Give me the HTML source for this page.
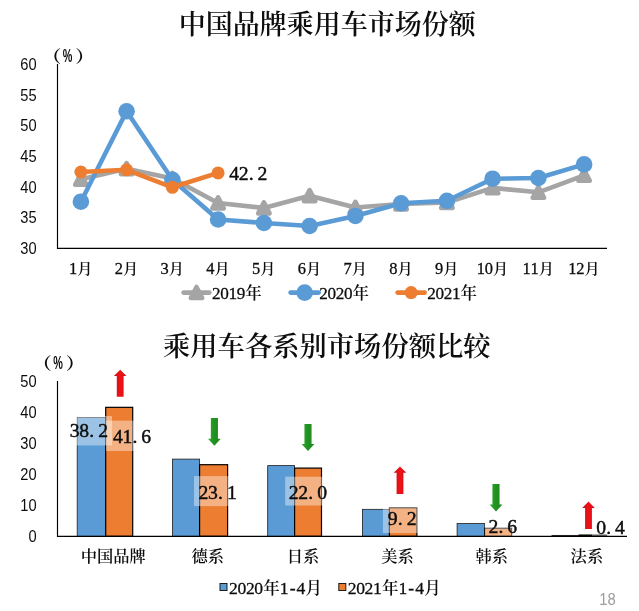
<!DOCTYPE html><html lang="zh-CN"><head><meta charset="utf-8"><title>中国品牌乘用车市场份额</title>
<style>html,body{margin:0;padding:0;background:#fff}svg{display:block}text{font-family:"Liberation Serif","Noto Serif CJK SC",serif;font-weight:600}.s{font-family:"Liberation Sans",sans-serif;font-weight:400}.d{font-weight:400}</style></head><body>
<svg width="639" height="611" viewBox="0 0 639 611">
<rect width="639" height="611" fill="#fff"/>
<text x="327.3" y="33.9" font-size="27.0" text-anchor="middle" fill="#0d0d0d">中国品牌乘用车市场份额</text>
<text transform="translate(56.10 63.1) scale(1.15 1)" x="-3.9" font-size="16.8" style="font-weight:700" text-anchor="middle" fill="#0d0d0d">（</text>
<text class="s" transform="translate(67.60 62.4) scale(0.6 1)" font-size="18" style="font-weight:700" text-anchor="middle" fill="#0d0d0d">%</text>
<text transform="translate(80.50 63.1) scale(1.15 1)" x="3.9" font-size="16.8" style="font-weight:700" text-anchor="middle" fill="#0d0d0d">）</text>
<text class="s" transform="translate(36.7 69.80) scale(0.93 1)" font-size="15.8" text-anchor="end" fill="#0d0d0d">60</text>
<text class="s" transform="translate(36.7 100.50) scale(0.93 1)" font-size="15.8" text-anchor="end" fill="#0d0d0d">55</text>
<text class="s" transform="translate(36.7 131.20) scale(0.93 1)" font-size="15.8" text-anchor="end" fill="#0d0d0d">50</text>
<text class="s" transform="translate(36.7 161.90) scale(0.93 1)" font-size="15.8" text-anchor="end" fill="#0d0d0d">45</text>
<text class="s" transform="translate(36.7 192.60) scale(0.93 1)" font-size="15.8" text-anchor="end" fill="#0d0d0d">40</text>
<text class="s" transform="translate(36.7 223.30) scale(0.93 1)" font-size="15.8" text-anchor="end" fill="#0d0d0d">35</text>
<text class="s" transform="translate(36.7 254.00) scale(0.93 1)" font-size="15.8" text-anchor="end" fill="#0d0d0d">30</text>
<path d="M57.5 64.1 V248.3 H607" fill="none" stroke="#000" stroke-width="1.15"/>
<text y="273.70" font-size="15.2" text-anchor="middle" fill="#0d0d0d" style="font-weight:600"><tspan class="d" x="73.08" font-size="16.43" stroke="#0d0d0d" stroke-width="0.3">1</tspan><tspan x="84.93">月</tspan></text>
<text y="273.70" font-size="15.2" text-anchor="middle" fill="#0d0d0d" style="font-weight:600"><tspan class="d" x="118.83" font-size="16.43" stroke="#0d0d0d" stroke-width="0.3">2</tspan><tspan x="130.68">月</tspan></text>
<text y="273.70" font-size="15.2" text-anchor="middle" fill="#0d0d0d" style="font-weight:600"><tspan class="d" x="164.57" font-size="16.43" stroke="#0d0d0d" stroke-width="0.3">3</tspan><tspan x="176.43">月</tspan></text>
<text y="273.70" font-size="15.2" text-anchor="middle" fill="#0d0d0d" style="font-weight:600"><tspan class="d" x="210.32" font-size="16.43" stroke="#0d0d0d" stroke-width="0.3">4</tspan><tspan x="222.18">月</tspan></text>
<text y="273.70" font-size="15.2" text-anchor="middle" fill="#0d0d0d" style="font-weight:600"><tspan class="d" x="256.07" font-size="16.43" stroke="#0d0d0d" stroke-width="0.3">5</tspan><tspan x="267.92">月</tspan></text>
<text y="273.70" font-size="15.2" text-anchor="middle" fill="#0d0d0d" style="font-weight:600"><tspan class="d" x="301.82" font-size="16.43" stroke="#0d0d0d" stroke-width="0.3">6</tspan><tspan x="313.67">月</tspan></text>
<text y="273.70" font-size="15.2" text-anchor="middle" fill="#0d0d0d" style="font-weight:600"><tspan class="d" x="347.57" font-size="16.43" stroke="#0d0d0d" stroke-width="0.3">7</tspan><tspan x="359.42">月</tspan></text>
<text y="273.70" font-size="15.2" text-anchor="middle" fill="#0d0d0d" style="font-weight:600"><tspan class="d" x="393.32" font-size="16.43" stroke="#0d0d0d" stroke-width="0.3">8</tspan><tspan x="405.17">月</tspan></text>
<text y="273.70" font-size="15.2" text-anchor="middle" fill="#0d0d0d" style="font-weight:600"><tspan class="d" x="439.07" font-size="16.43" stroke="#0d0d0d" stroke-width="0.3">9</tspan><tspan x="450.92">月</tspan></text>
<text y="273.70" font-size="15.2" text-anchor="middle" fill="#0d0d0d" style="font-weight:600"><tspan class="d" x="480.88 488.77" font-size="16.43" stroke="#0d0d0d" stroke-width="0.3">10</tspan><tspan x="500.62">月</tspan></text>
<text y="273.70" font-size="15.2" text-anchor="middle" fill="#0d0d0d" style="font-weight:600"><tspan class="d" x="526.63 534.53" font-size="16.43" stroke="#0d0d0d" stroke-width="0.3">11</tspan><tspan x="546.38">月</tspan></text>
<text y="273.70" font-size="15.2" text-anchor="middle" fill="#0d0d0d" style="font-weight:600"><tspan class="d" x="572.38 580.28" font-size="16.43" stroke="#0d0d0d" stroke-width="0.3">12</tspan><tspan x="592.12">月</tspan></text>
<polyline points="80.9,179.3 126.6,168.7 172.4,178.5 218.1,203.0 263.9,208.0 309.6,195.7 355.4,207.5 401.1,204.0 446.9,202.5 492.6,187.9 538.4,192.3 584.1,175.4" fill="none" stroke="#a5a5a5" stroke-width="4.6" stroke-linejoin="round" stroke-linecap="round"/>
<path d="M80.9 173.7 L86.6 184.7 H75.2 Z" fill="#a5a5a5" stroke="#a5a5a5" stroke-width="4.6" stroke-linejoin="round"/>
<path d="M126.6 163.1 L132.3 174.1 H120.9 Z" fill="#a5a5a5" stroke="#a5a5a5" stroke-width="4.6" stroke-linejoin="round"/>
<path d="M172.4 172.9 L178.1 183.9 H166.7 Z" fill="#a5a5a5" stroke="#a5a5a5" stroke-width="4.6" stroke-linejoin="round"/>
<path d="M218.1 197.4 L223.8 208.4 H212.4 Z" fill="#a5a5a5" stroke="#a5a5a5" stroke-width="4.6" stroke-linejoin="round"/>
<path d="M263.9 202.4 L269.6 213.4 H258.2 Z" fill="#a5a5a5" stroke="#a5a5a5" stroke-width="4.6" stroke-linejoin="round"/>
<path d="M309.6 190.1 L315.3 201.1 H303.9 Z" fill="#a5a5a5" stroke="#a5a5a5" stroke-width="4.6" stroke-linejoin="round"/>
<path d="M355.4 201.9 L361.1 212.9 H349.7 Z" fill="#a5a5a5" stroke="#a5a5a5" stroke-width="4.6" stroke-linejoin="round"/>
<path d="M401.1 198.4 L406.8 209.4 H395.4 Z" fill="#a5a5a5" stroke="#a5a5a5" stroke-width="4.6" stroke-linejoin="round"/>
<path d="M446.9 196.9 L452.6 207.9 H441.2 Z" fill="#a5a5a5" stroke="#a5a5a5" stroke-width="4.6" stroke-linejoin="round"/>
<path d="M492.6 182.3 L498.3 193.3 H486.9 Z" fill="#a5a5a5" stroke="#a5a5a5" stroke-width="4.6" stroke-linejoin="round"/>
<path d="M538.4 186.7 L544.1 197.7 H532.7 Z" fill="#a5a5a5" stroke="#a5a5a5" stroke-width="4.6" stroke-linejoin="round"/>
<path d="M584.1 169.8 L589.8 180.8 H578.4 Z" fill="#a5a5a5" stroke="#a5a5a5" stroke-width="4.6" stroke-linejoin="round"/>
<polyline points="80.9,201.7 126.6,111.3 172.4,179.8 218.1,219.5 263.9,223.0 309.6,226.0 355.4,216.0 401.1,203.3 446.9,200.8 492.6,178.7 538.4,178.0 584.1,164.4" fill="none" stroke="#5b9bd5" stroke-width="4.6" stroke-linejoin="round" stroke-linecap="round"/>
<circle cx="80.9" cy="201.7" r="8.3" fill="#5b9bd5"/>
<circle cx="126.6" cy="111.3" r="8.3" fill="#5b9bd5"/>
<circle cx="172.4" cy="179.8" r="8.3" fill="#5b9bd5"/>
<circle cx="218.1" cy="219.5" r="8.3" fill="#5b9bd5"/>
<circle cx="263.9" cy="223.0" r="8.3" fill="#5b9bd5"/>
<circle cx="309.6" cy="226.0" r="8.3" fill="#5b9bd5"/>
<circle cx="355.4" cy="216.0" r="8.3" fill="#5b9bd5"/>
<circle cx="401.1" cy="203.3" r="8.3" fill="#5b9bd5"/>
<circle cx="446.9" cy="200.8" r="8.3" fill="#5b9bd5"/>
<circle cx="492.6" cy="178.7" r="8.3" fill="#5b9bd5"/>
<circle cx="538.4" cy="178.0" r="8.3" fill="#5b9bd5"/>
<circle cx="584.1" cy="164.4" r="8.3" fill="#5b9bd5"/>
<polyline points="80.9,172.0 126.6,169.8 172.4,187.3 218.1,172.9" fill="none" stroke="#ed7d31" stroke-width="4.6" stroke-linejoin="round" stroke-linecap="round"/>
<circle cx="80.9" cy="172.0" r="6.5" fill="#ed7d31"/>
<circle cx="126.6" cy="169.8" r="6.5" fill="#ed7d31"/>
<circle cx="172.4" cy="187.3" r="6.5" fill="#ed7d31"/>
<circle cx="218.1" cy="172.9" r="6.5" fill="#ed7d31"/>
<text y="180.00" font-size="17.6" text-anchor="middle" fill="#0d0d0d" style="font-weight:600"><tspan class="d" x="234.12 243.57 251.13 262.48" font-size="19.66" stroke="#0d0d0d" stroke-width="0.45">42.2</tspan></text>
<line x1="183.6" y1="292.6" x2="209.4" y2="292.6" stroke="#a5a5a5" stroke-width="4.6" stroke-linecap="round"/>
<path d="M196.5 287.0 L202.2 298.0 H190.8 Z" fill="#a5a5a5" stroke="#a5a5a5" stroke-width="4.6" stroke-linejoin="round"/>
<text y="298.60" font-size="16.5" text-anchor="middle" fill="#0d0d0d" style="font-weight:600"><tspan class="d" x="216.32 224.57 232.82 241.07" font-size="17.16" stroke="#0d0d0d" stroke-width="0.3">2019</tspan><tspan x="253.45">年</tspan></text>
<line x1="290.6" y1="292.6" x2="318.7" y2="292.6" stroke="#5b9bd5" stroke-width="4.6" stroke-linecap="round"/>
<circle cx="304.65" cy="292.6" r="8.3" fill="#5b9bd5"/>
<text y="298.60" font-size="16.5" text-anchor="middle" fill="#0d0d0d" style="font-weight:600"><tspan class="d" x="323.62 331.88 340.12 348.38" font-size="17.16" stroke="#0d0d0d" stroke-width="0.3">2020</tspan><tspan x="360.75">年</tspan></text>
<line x1="397.6" y1="292.6" x2="424.7" y2="292.6" stroke="#ed7d31" stroke-width="4.6" stroke-linecap="round"/>
<circle cx="411.15" cy="292.6" r="6.5" fill="#ed7d31"/>
<text y="298.60" font-size="16.5" text-anchor="middle" fill="#0d0d0d" style="font-weight:600"><tspan class="d" x="431.62 439.88 448.12 456.38" font-size="17.16" stroke="#0d0d0d" stroke-width="0.3">2021</tspan><tspan x="468.75">年</tspan></text>
<text x="326.8" y="355.9" font-size="27.3" text-anchor="middle" fill="#0d0d0d">乘用车各系别市场份额比较</text>
<text transform="translate(46.60 369.8) scale(1.15 1)" x="-3.9" font-size="16.8" style="font-weight:700" text-anchor="middle" fill="#0d0d0d">（</text>
<text class="s" transform="translate(58.10 369.09999999999997) scale(0.6 1)" font-size="18" style="font-weight:700" text-anchor="middle" fill="#0d0d0d">%</text>
<text transform="translate(71.00 369.8) scale(1.15 1)" x="3.9" font-size="16.8" style="font-weight:700" text-anchor="middle" fill="#0d0d0d">）</text>
<text class="s" transform="translate(36.7 387.10) scale(0.93 1)" font-size="15.8" text-anchor="end" fill="#0d0d0d">50</text>
<text class="s" transform="translate(36.7 418.10) scale(0.93 1)" font-size="15.8" text-anchor="end" fill="#0d0d0d">40</text>
<text class="s" transform="translate(36.7 449.10) scale(0.93 1)" font-size="15.8" text-anchor="end" fill="#0d0d0d">30</text>
<text class="s" transform="translate(36.7 480.10) scale(0.93 1)" font-size="15.8" text-anchor="end" fill="#0d0d0d">20</text>
<text class="s" transform="translate(36.7 511.10) scale(0.93 1)" font-size="15.8" text-anchor="end" fill="#0d0d0d">10</text>
<text class="s" transform="translate(36.7 542.10) scale(0.93 1)" font-size="15.8" text-anchor="end" fill="#0d0d0d">0</text>
<rect x="77.20" y="417.57" width="28.50" height="118.73" fill="#5b9bd5" stroke="#1c1c1c" stroke-width="0.8"/>
<rect x="105.70" y="407.34" width="27.00" height="128.96" fill="#ed7d31" stroke="#000" stroke-width="1.2"/>
<rect x="172.50" y="459.11" width="27.10" height="77.19" fill="#5b9bd5" stroke="#1c1c1c" stroke-width="0.8"/>
<rect x="199.60" y="464.69" width="28.00" height="71.61" fill="#ed7d31" stroke="#000" stroke-width="1.2"/>
<rect x="267.70" y="465.62" width="26.90" height="70.68" fill="#5b9bd5" stroke="#1c1c1c" stroke-width="0.8"/>
<rect x="294.60" y="468.10" width="26.90" height="68.20" fill="#ed7d31" stroke="#000" stroke-width="1.2"/>
<rect x="362.40" y="509.33" width="27.00" height="26.97" fill="#5b9bd5" stroke="#1c1c1c" stroke-width="0.8"/>
<rect x="389.40" y="507.78" width="27.50" height="28.52" fill="#ed7d31" stroke="#000" stroke-width="1.2"/>
<rect x="457.10" y="523.59" width="27.50" height="12.71" fill="#5b9bd5" stroke="#1c1c1c" stroke-width="0.8"/>
<rect x="484.60" y="528.24" width="27.00" height="8.06" fill="#ed7d31" stroke="#000" stroke-width="1.2"/>
<rect x="552.00" y="535.37" width="27.20" height="0.93" fill="#5b9bd5" stroke="#1c1c1c" stroke-width="0.8"/>
<rect x="579.20" y="535.06" width="27.40" height="1.24" fill="#ed7d31" stroke="#000" stroke-width="1.2"/>
<rect x="66" y="416" width="46" height="29.4" fill="#fff" fill-opacity="0.4"/>
<rect x="106" y="420.6" width="52" height="30.4" fill="#fff" fill-opacity="0.4"/>
<rect x="194" y="476.1" width="46" height="30" fill="#fff" fill-opacity="0.4"/>
<rect x="285.2" y="476.7" width="46" height="28.8" fill="#fff" fill-opacity="0.4"/>
<rect x="382.9" y="506" width="38" height="27" fill="#fff" fill-opacity="0.4"/>
<rect x="484.8" y="515" width="38" height="26" fill="#fff" fill-opacity="0.4"/>
<rect x="592" y="515" width="40" height="24" fill="#fff" fill-opacity="0.4"/>
<text y="437.20" font-size="17.6" text-anchor="middle" fill="#0d0d0d" style="font-weight:600"><tspan class="d" x="74.72 84.17 91.73 103.08" font-size="19.66" stroke="#0d0d0d" stroke-width="0.45">38.2</tspan></text>
<text y="443.40" font-size="17.6" text-anchor="middle" fill="#0d0d0d" style="font-weight:600"><tspan class="d" x="117.92 127.38 134.94 146.27" font-size="19.66" stroke="#0d0d0d" stroke-width="0.45">41.6</tspan></text>
<text y="498.60" font-size="17.6" text-anchor="middle" fill="#0d0d0d" style="font-weight:600"><tspan class="d" x="203.53 212.97 220.53 231.87" font-size="19.66" stroke="#0d0d0d" stroke-width="0.45">23.1</tspan></text>
<text y="498.90" font-size="17.6" text-anchor="middle" fill="#0d0d0d" style="font-weight:600"><tspan class="d" x="293.73 303.18 310.74 322.07" font-size="19.66" stroke="#0d0d0d" stroke-width="0.45">22.0</tspan></text>
<text y="525.40" font-size="17.6" text-anchor="middle" fill="#0d0d0d" style="font-weight:600"><tspan class="d" x="392.73 400.29 411.62" font-size="19.66" stroke="#0d0d0d" stroke-width="0.45">9.2</tspan></text>
<text y="533.30" font-size="17.6" text-anchor="middle" fill="#0d0d0d" style="font-weight:600"><tspan class="d" x="493.33 500.89 512.23" font-size="19.66" stroke="#0d0d0d" stroke-width="0.45">2.6</tspan></text>
<text y="533.90" font-size="17.6" text-anchor="middle" fill="#0d0d0d" style="font-weight:600"><tspan class="d" x="601.12 608.69 620.03" font-size="19.66" stroke="#0d0d0d" stroke-width="0.45">0.4</tspan></text>
<path d="M57.5 381.0 V536.3 H627" fill="none" stroke="#000" stroke-width="1.15"/>
<defs><linearGradient id="gr" x1="0" x2="1" y1="0" y2="0"><stop offset="0" stop-color="#c40f1a"/><stop offset="0.5" stop-color="#f01216"/><stop offset="1" stop-color="#cf1019"/></linearGradient><linearGradient id="gg" x1="0" x2="1" y1="0" y2="0"><stop offset="0" stop-color="#2cab2c"/><stop offset="0.45" stop-color="#219321"/><stop offset="1" stop-color="#1c871c"/></linearGradient></defs>
<path d="M120.2 369.7 L126.5 376.09999999999997 H123.60000000000001 V396.7 H116.8 V376.09999999999997 H113.9 Z" fill="url(#gr)"/>
<path d="M214.4 445.7 L220.8 438.7 H217.95000000000002 V417.9 H210.85 V438.7 H208.0 Z" fill="url(#gg)"/>
<path d="M308 451 L314.4 444.0 H311.55 V424.1 H304.45 V444.0 H301.6 Z" fill="url(#gg)"/>
<path d="M400.0 466.4 L406.3 472.79999999999995 H403.4 V493.9 H396.6 V472.79999999999995 H393.7 Z" fill="url(#gr)"/>
<path d="M496 511.4 L502.4 504.4 H499.55 V484 H492.45 V504.4 H489.6 Z" fill="url(#gg)"/>
<path d="M588.5 501.5 L594.8 507.9 H591.9 V528.9 H585.1 V507.9 H582.2 Z" fill="url(#gr)"/>
<text x="113.3" y="562.3" font-size="16.3" style="font-weight:600" text-anchor="middle" fill="#0d0d0d">中国品牌</text>
<text x="207.79999999999998" y="562.3" font-size="16.3" style="font-weight:600" text-anchor="middle" fill="#0d0d0d">德系</text>
<text x="303.0" y="562.3" font-size="16.3" style="font-weight:600" text-anchor="middle" fill="#0d0d0d">日系</text>
<text x="397.6" y="562.3" font-size="16.3" style="font-weight:600" text-anchor="middle" fill="#0d0d0d">美系</text>
<text x="491.8" y="562.3" font-size="16.3" style="font-weight:600" text-anchor="middle" fill="#0d0d0d">韩系</text>
<text x="586.9" y="562.3" font-size="16.3" style="font-weight:600" text-anchor="middle" fill="#0d0d0d">法系</text>
<rect x="220" y="583.5" width="7" height="7" fill="#5b9bd5" stroke="#1c1c1c" stroke-width="1"/>
<text y="594.00" font-size="16.5" text-anchor="middle" fill="#0d0d0d" style="font-weight:600"><tspan class="d" x="233.42 241.87 250.32 258.77" font-size="17.58" stroke="#0d0d0d" stroke-width="0.3">2020</tspan><tspan x="271.45">年</tspan><tspan class="d" x="284.12 292.57 301.02" font-size="17.58" stroke="#0d0d0d" stroke-width="0.3">1-4</tspan><tspan x="313.70">月</tspan></text>
<rect x="338.8" y="583.5" width="7" height="7" fill="#ed7d31" stroke="#1c1c1c" stroke-width="1"/>
<text y="594.00" font-size="16.5" text-anchor="middle" fill="#0d0d0d" style="font-weight:600"><tspan class="d" x="352.12 360.57 369.02 377.47" font-size="17.58" stroke="#0d0d0d" stroke-width="0.3">2021</tspan><tspan x="390.15">年</tspan><tspan class="d" x="402.82 411.27 419.72" font-size="17.58" stroke="#0d0d0d" stroke-width="0.3">1-4</tspan><tspan x="432.40">月</tspan></text>
<text class="s" transform="translate(607.4 605) scale(0.9 1)" font-size="16.5" text-anchor="middle" fill="#9c9c9c">18</text>
</svg></body></html>
